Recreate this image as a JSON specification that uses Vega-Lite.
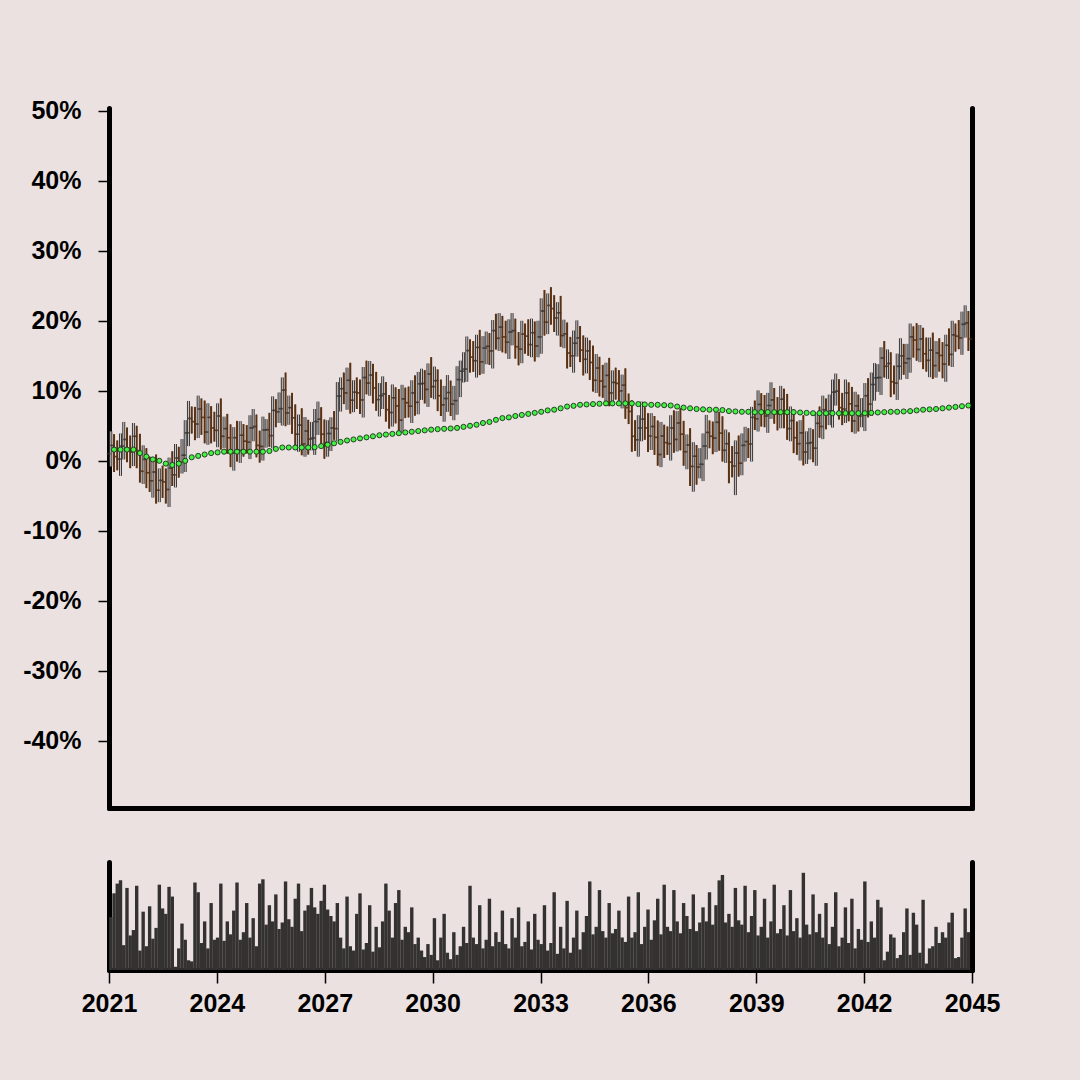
{
"$schema": "https://vega.github.io/schema/vega-lite/v6.json",
"background": "#ebe1e1",
"padding": {"left": 22, "top": 98, "right": 90, "bottom": 70},
"spacing": 54,
"datasets": {
"bars": [
{"t":2021.05,"o":1.0,"h":4.2,"l":-0.8,"c":2.2,"v":49},
{"t":2021.14,"o":2.2,"h":3.8,"l":-1.6,"c":0.6,"v":71},
{"t":2021.23,"o":0.6,"h":2.9,"l":-1.35,"c":0.25,"v":80},
{"t":2021.32,"o":0.25,"h":3.9,"l":-2.15,"c":2.1,"v":83},
{"t":2021.41,"o":2.1,"h":5.55,"l":0.2,"c":3.05,"v":23},
{"t":2021.50,"o":3.05,"h":4.75,"l":-0.2,"c":1.5,"v":76},
{"t":2021.59,"o":1.5,"h":3.6,"l":-1.05,"c":1.25,"v":32},
{"t":2021.68,"o":1.25,"h":5.4,"l":-0.75,"c":3.5,"v":37},
{"t":2021.77,"o":3.5,"h":5.0,"l":-1.05,"c":1.45,"v":78},
{"t":2021.86,"o":1.45,"h":3.85,"l":-3.1,"c":-1.5,"v":18},
{"t":2021.95,"o":-1.5,"h":2.2,"l":-3.3,"c":0.2,"v":54},
{"t":2022.04,"o":0.2,"h":1.8,"l":-3.9,"c":-1.7,"v":22},
{"t":2022.13,"o":-1.7,"h":0.6,"l":-4.45,"c":-2.85,"v":59},
{"t":2022.22,"o":-2.85,"h":0.2,"l":-5.25,"c":-1.6,"v":29},
{"t":2022.31,"o":-1.6,"h":0.9,"l":-6.1,"c":-4.2,"v":39},
{"t":2022.40,"o":-4.2,"h":-1.1,"l":-5.9,"c":-2.8,"v":79},
{"t":2022.49,"o":-2.8,"h":-0.7,"l":-5.3,"c":-3.0,"v":57},
{"t":2022.58,"o":-3.0,"h":-1.1,"l":-6.1,"c":-4.1,"v":52},
{"t":2022.67,"o":-4.1,"h":0.45,"l":-6.6,"c":-1.05,"v":77},
{"t":2022.76,"o":-1.05,"h":1.35,"l":-3.6,"c":-2.0,"v":68},
{"t":2022.85,"o":-2.0,"h":2.4,"l":-3.8,"c":0.4,"v":3},
{"t":2022.94,"o":0.4,"h":2.0,"l":-2.4,"c":-0.2,"v":20},
{"t":2023.03,"o":-0.2,"h":3.1,"l":-1.8,"c":0.8,"v":43},
{"t":2023.12,"o":0.8,"h":5.8,"l":-1.6,"c":4.0,"v":28},
{"t":2023.21,"o":4.0,"h":8.55,"l":2.1,"c":6.05,"v":9},
{"t":2023.30,"o":6.05,"h":7.75,"l":3.9,"c":5.6,"v":8},
{"t":2023.39,"o":5.6,"h":7.7,"l":2.95,"c":5.25,"v":81},
{"t":2023.48,"o":5.25,"h":9.3,"l":3.25,"c":7.4,"v":72},
{"t":2023.57,"o":7.4,"h":8.9,"l":3.7,"c":6.2,"v":25},
{"t":2023.66,"o":6.2,"h":8.6,"l":2.5,"c":4.1,"v":45},
{"t":2023.75,"o":4.1,"h":8.2,"l":2.3,"c":6.2,"v":20},
{"t":2023.84,"o":6.2,"h":7.8,"l":2.5,"c":4.7,"v":62},
{"t":2023.93,"o":4.7,"h":7.0,"l":2.75,"c":4.35,"v":28},
{"t":2024.02,"o":4.35,"h":8.2,"l":1.95,"c":6.4,"v":30},
{"t":2024.11,"o":6.4,"h":8.9,"l":1.6,"c":3.5,"v":80},
{"t":2024.20,"o":3.5,"h":6.3,"l":1.8,"c":4.6,"v":27},
{"t":2024.29,"o":4.6,"h":6.7,"l":1.0,"c":3.3,"v":45},
{"t":2024.38,"o":3.3,"h":5.2,"l":-0.9,"c":1.1,"v":33},
{"t":2024.47,"o":1.1,"h":4.8,"l":-1.4,"c":3.3,"v":55},
{"t":2024.56,"o":3.3,"h":5.7,"l":-0.1,"c":1.5,"v":81},
{"t":2024.65,"o":1.5,"h":5.65,"l":-0.3,"c":3.65,"v":28},
{"t":2024.74,"o":3.65,"h":5.25,"l":0.6,"c":2.8,"v":35},
{"t":2024.83,"o":2.8,"h":5.1,"l":1.05,"c":2.65,"v":62},
{"t":2024.92,"o":2.65,"h":6.5,"l":0.25,"c":4.7,"v":30},
{"t":2025.01,"o":4.7,"h":7.4,"l":2.8,"c":4.9,"v":48},
{"t":2025.10,"o":4.9,"h":6.6,"l":0.5,"c":2.2,"v":22},
{"t":2025.19,"o":2.2,"h":4.3,"l":-0.25,"c":2.05,"v":80},
{"t":2025.28,"o":2.05,"h":6.3,"l":0.05,"c":4.4,"v":84},
{"t":2025.37,"o":4.4,"h":5.95,"l":1.9,"c":4.45,"v":42},
{"t":2025.46,"o":4.45,"h":6.85,"l":2.0,"c":3.6,"v":60},
{"t":2025.55,"o":3.6,"h":9.2,"l":1.8,"c":7.2,"v":45},
{"t":2025.64,"o":7.2,"h":8.8,"l":4.8,"c":7.0,"v":70},
{"t":2025.73,"o":7.0,"h":9.75,"l":5.4,"c":7.45,"v":38},
{"t":2025.82,"o":7.45,"h":11.9,"l":5.05,"c":10.1,"v":44},
{"t":2025.91,"o":10.1,"h":12.6,"l":4.95,"c":6.85,"v":82},
{"t":2026.00,"o":6.85,"h":9.3,"l":5.15,"c":7.6,"v":47},
{"t":2026.09,"o":7.6,"h":9.7,"l":3.85,"c":6.15,"v":40},
{"t":2026.18,"o":6.15,"h":8.05,"l":1.8,"c":3.8,"v":66},
{"t":2026.27,"o":3.8,"h":6.6,"l":1.3,"c":5.1,"v":80},
{"t":2026.36,"o":5.1,"h":7.5,"l":0.8,"c":2.4,"v":36},
{"t":2026.45,"o":2.4,"h":6.25,"l":0.6,"c":4.25,"v":55},
{"t":2026.54,"o":4.25,"h":5.85,"l":0.9,"c":3.1,"v":60},
{"t":2026.63,"o":3.1,"h":5.55,"l":1.5,"c":3.25,"v":76},
{"t":2026.72,"o":3.25,"h":7.4,"l":0.85,"c":5.6,"v":58},
{"t":2026.81,"o":5.6,"h":8.45,"l":3.7,"c":5.95,"v":52},
{"t":2026.90,"o":5.95,"h":7.65,"l":2.1,"c":3.8,"v":64},
{"t":2026.99,"o":3.8,"h":5.9,"l":0.3,"c":2.6,"v":79},
{"t":2027.08,"o":2.6,"h":5.8,"l":0.6,"c":3.9,"v":56},
{"t":2027.17,"o":3.9,"h":6.2,"l":1.4,"c":4.7,"v":50},
{"t":2027.26,"o":4.7,"h":7.1,"l":3.0,"c":4.6,"v":45},
{"t":2027.35,"o":4.6,"h":11.25,"l":2.8,"c":9.25,"v":62},
{"t":2027.44,"o":9.25,"h":11.9,"l":7.05,"c":10.3,"v":30},
{"t":2027.53,"o":10.3,"h":12.6,"l":8.1,"c":9.7,"v":20},
{"t":2027.62,"o":9.7,"h":13.3,"l":7.3,"c":11.5,"v":68},
{"t":2027.71,"o":11.5,"h":14.0,"l":6.75,"c":8.65,"v":22},
{"t":2027.80,"o":8.65,"h":11.5,"l":6.95,"c":9.8,"v":18},
{"t":2027.89,"o":9.8,"h":11.9,"l":7.4,"c":9.7,"v":52},
{"t":2027.98,"o":9.7,"h":11.6,"l":6.7,"c":8.7,"v":71},
{"t":2028.07,"o":8.7,"h":13.4,"l":6.2,"c":11.9,"v":19},
{"t":2028.16,"o":11.9,"h":14.3,"l":9.5,"c":11.1,"v":25},
{"t":2028.25,"o":11.1,"h":14.25,"l":9.3,"c":12.25,"v":60},
{"t":2028.34,"o":12.25,"h":13.85,"l":8.2,"c":10.4,"v":17},
{"t":2028.43,"o":10.4,"h":12.7,"l":7.15,"c":8.75,"v":40},
{"t":2028.52,"o":8.75,"h":11.1,"l":6.35,"c":9.3,"v":21},
{"t":2028.61,"o":9.3,"h":12.05,"l":7.4,"c":9.55,"v":45},
{"t":2028.70,"o":9.55,"h":11.25,"l":5.6,"c":7.3,"v":80},
{"t":2028.79,"o":7.3,"h":9.4,"l":4.6,"c":6.9,"v":55},
{"t":2028.88,"o":6.9,"h":10.9,"l":4.9,"c":9.0,"v":30},
{"t":2028.97,"o":9.0,"h":10.5,"l":5.35,"c":7.85,"v":62},
{"t":2029.06,"o":7.85,"h":10.25,"l":4.2,"c":5.8,"v":74},
{"t":2029.15,"o":5.8,"h":10.85,"l":4.0,"c":8.85,"v":28},
{"t":2029.24,"o":8.85,"h":10.45,"l":6.1,"c":8.3,"v":40},
{"t":2029.33,"o":8.3,"h":10.6,"l":6.2,"c":7.8,"v":35},
{"t":2029.42,"o":7.8,"h":11.5,"l":5.4,"c":9.7,"v":58},
{"t":2029.51,"o":9.7,"h":12.2,"l":6.45,"c":8.35,"v":24},
{"t":2029.60,"o":8.35,"h":12.7,"l":6.65,"c":11.0,"v":30},
{"t":2029.69,"o":11.0,"h":13.15,"l":8.7,"c":11.05,"v":18},
{"t":2029.78,"o":11.05,"h":12.95,"l":8.2,"c":10.2,"v":12},
{"t":2029.87,"o":10.2,"h":13.9,"l":7.7,"c":12.4,"v":24},
{"t":2029.96,"o":12.4,"h":14.8,"l":9.0,"c":10.6,"v":14},
{"t":2030.05,"o":10.6,"h":13.45,"l":8.8,"c":11.45,"v":48},
{"t":2030.14,"o":11.45,"h":13.05,"l":7.1,"c":9.3,"v":9},
{"t":2030.23,"o":9.3,"h":11.6,"l":6.4,"c":8.0,"v":30},
{"t":2030.32,"o":8.0,"h":10.7,"l":5.6,"c":8.9,"v":52},
{"t":2030.41,"o":8.9,"h":12.25,"l":7.0,"c":9.75,"v":16},
{"t":2030.50,"o":9.75,"h":11.45,"l":6.4,"c":8.1,"v":10},
{"t":2030.59,"o":8.1,"h":10.7,"l":5.8,"c":8.6,"v":35},
{"t":2030.68,"o":8.6,"h":13.5,"l":6.6,"c":11.6,"v":14},
{"t":2030.77,"o":11.6,"h":14.3,"l":9.1,"c":12.8,"v":22},
{"t":2030.86,"o":12.8,"h":15.5,"l":11.2,"c":13.1,"v":40},
{"t":2030.95,"o":13.1,"h":17.75,"l":11.3,"c":15.75,"v":25},
{"t":2031.04,"o":15.75,"h":17.35,"l":12.6,"c":14.8,"v":78},
{"t":2031.13,"o":14.8,"h":17.1,"l":12.7,"c":14.3,"v":30},
{"t":2031.22,"o":14.3,"h":18.0,"l":11.9,"c":16.2,"v":24},
{"t":2031.31,"o":16.2,"h":18.7,"l":12.25,"c":14.15,"v":60},
{"t":2031.40,"o":14.15,"h":17.8,"l":12.45,"c":16.1,"v":20},
{"t":2031.49,"o":16.1,"h":18.45,"l":13.8,"c":16.35,"v":28},
{"t":2031.58,"o":16.35,"h":18.25,"l":13.7,"c":15.7,"v":66},
{"t":2031.67,"o":15.7,"h":20.1,"l":13.2,"c":18.6,"v":22},
{"t":2031.76,"o":18.6,"h":21.0,"l":15.9,"c":17.5,"v":35},
{"t":2031.85,"o":17.5,"h":21.1,"l":15.7,"c":19.1,"v":26},
{"t":2031.94,"o":19.1,"h":20.7,"l":15.5,"c":17.7,"v":55},
{"t":2032.03,"o":17.7,"h":20.0,"l":15.35,"c":16.95,"v":24},
{"t":2032.12,"o":16.95,"h":20.2,"l":14.55,"c":18.4,"v":20},
{"t":2032.21,"o":18.4,"h":21.1,"l":16.5,"c":18.6,"v":48},
{"t":2032.30,"o":18.6,"h":20.3,"l":14.6,"c":16.3,"v":30},
{"t":2032.39,"o":16.3,"h":18.4,"l":13.65,"c":15.95,"v":58},
{"t":2032.48,"o":15.95,"h":20.0,"l":13.95,"c":18.1,"v":22},
{"t":2032.57,"o":18.1,"h":19.6,"l":15.3,"c":17.8,"v":26},
{"t":2032.66,"o":17.8,"h":20.2,"l":15.0,"c":16.6,"v":45},
{"t":2032.75,"o":16.6,"h":20.3,"l":14.8,"c":18.3,"v":19},
{"t":2032.84,"o":18.3,"h":19.9,"l":14.2,"c":16.4,"v":52},
{"t":2032.93,"o":16.4,"h":20.0,"l":14.8,"c":17.7,"v":28},
{"t":2033.02,"o":17.7,"h":23.2,"l":15.3,"c":21.4,"v":24},
{"t":2033.11,"o":21.4,"h":24.4,"l":17.9,"c":19.8,"v":60},
{"t":2033.20,"o":19.8,"h":23.9,"l":18.1,"c":22.2,"v":18},
{"t":2033.29,"o":22.2,"h":24.8,"l":19.45,"c":21.75,"v":25},
{"t":2033.38,"o":21.75,"h":23.65,"l":18.4,"c":20.4,"v":72},
{"t":2033.47,"o":20.4,"h":22.65,"l":17.9,"c":21.15,"v":15},
{"t":2033.56,"o":21.15,"h":23.55,"l":16.3,"c":17.9,"v":40},
{"t":2033.65,"o":17.9,"h":20.15,"l":16.1,"c":18.15,"v":20},
{"t":2033.74,"o":18.15,"h":19.75,"l":13.2,"c":15.4,"v":64},
{"t":2033.83,"o":15.4,"h":17.7,"l":13.4,"c":15.0,"v":16},
{"t":2033.92,"o":15.0,"h":18.6,"l":12.6,"c":16.8,"v":30},
{"t":2034.01,"o":16.8,"h":20.05,"l":14.9,"c":17.55,"v":55},
{"t":2034.10,"o":17.55,"h":19.25,"l":14.1,"c":15.8,"v":19},
{"t":2034.19,"o":15.8,"h":17.9,"l":12.2,"c":14.5,"v":35},
{"t":2034.28,"o":14.5,"h":17.6,"l":12.5,"c":15.7,"v":50},
{"t":2034.37,"o":15.7,"h":17.2,"l":11.55,"c":14.05,"v":82},
{"t":2034.46,"o":14.05,"h":16.45,"l":9.9,"c":11.5,"v":33},
{"t":2034.55,"o":11.5,"h":15.25,"l":9.7,"c":13.25,"v":40},
{"t":2034.64,"o":13.25,"h":14.85,"l":9.2,"c":11.4,"v":74},
{"t":2034.73,"o":11.4,"h":13.7,"l":9.0,"c":10.6,"v":36},
{"t":2034.82,"o":10.6,"h":14.0,"l":8.2,"c":12.2,"v":30},
{"t":2034.91,"o":12.2,"h":14.7,"l":7.8,"c":9.7,"v":62},
{"t":2035.00,"o":9.7,"h":12.9,"l":8.0,"c":11.2,"v":34},
{"t":2035.09,"o":11.2,"h":13.3,"l":8.75,"c":11.05,"v":38},
{"t":2035.18,"o":11.05,"h":12.95,"l":8.0,"c":10.0,"v":55},
{"t":2035.27,"o":10.0,"h":12.3,"l":7.5,"c":10.8,"v":30},
{"t":2035.36,"o":10.8,"h":13.2,"l":6.0,"c":7.6,"v":26},
{"t":2035.45,"o":7.6,"h":9.6,"l":5.25,"c":7.05,"v":68},
{"t":2035.54,"o":7.05,"h":8.65,"l":1.3,"c":3.5,"v":30},
{"t":2035.63,"o":3.5,"h":5.8,"l":1.4,"c":3.0,"v":35},
{"t":2035.72,"o":3.0,"h":6.5,"l":0.6,"c":4.7,"v":72},
{"t":2035.81,"o":4.7,"h":8.45,"l":2.8,"c":5.95,"v":24},
{"t":2035.90,"o":5.95,"h":7.65,"l":3.0,"c":4.7,"v":40},
{"t":2035.99,"o":4.7,"h":6.8,"l":1.25,"c":3.55,"v":56},
{"t":2036.08,"o":3.55,"h":6.8,"l":1.55,"c":4.9,"v":28},
{"t":2036.17,"o":4.9,"h":6.4,"l":0.85,"c":3.35,"v":46},
{"t":2036.26,"o":3.35,"h":5.75,"l":-0.7,"c":0.9,"v":66},
{"t":2036.35,"o":0.9,"h":5.55,"l":-0.9,"c":3.55,"v":33},
{"t":2036.44,"o":3.55,"h":5.15,"l":0.4,"c":2.6,"v":79},
{"t":2036.53,"o":2.6,"h":4.9,"l":0.85,"c":2.45,"v":40},
{"t":2036.62,"o":2.45,"h":6.5,"l":0.05,"c":4.7,"v":36},
{"t":2036.71,"o":4.7,"h":7.2,"l":1.15,"c":3.05,"v":74},
{"t":2036.80,"o":3.05,"h":7.1,"l":1.35,"c":5.4,"v":45},
{"t":2036.89,"o":5.4,"h":7.5,"l":1.5,"c":3.8,"v":34},
{"t":2036.98,"o":3.8,"h":5.7,"l":-0.7,"c":1.3,"v":62},
{"t":2037.07,"o":1.3,"h":3.75,"l":-1.2,"c":2.25,"v":50},
{"t":2037.16,"o":2.25,"h":4.65,"l":-3.6,"c":-0.8,"v":38},
{"t":2037.25,"o":-0.8,"h":2.65,"l":-4.4,"c":0.65,"v":70},
{"t":2037.34,"o":0.65,"h":2.25,"l":-3.4,"c":-0.9,"v":36},
{"t":2037.43,"o":-0.9,"h":1.8,"l":-2.5,"c":-0.5,"v":44},
{"t":2037.52,"o":-0.5,"h":3.9,"l":-2.9,"c":2.1,"v":58},
{"t":2037.61,"o":2.1,"h":6.55,"l":0.2,"c":4.05,"v":45},
{"t":2037.70,"o":4.05,"h":5.75,"l":1.8,"c":3.5,"v":72},
{"t":2037.79,"o":3.5,"h":5.6,"l":0.95,"c":3.25,"v":42},
{"t":2037.88,"o":3.25,"h":7.4,"l":1.25,"c":5.5,"v":60},
{"t":2037.97,"o":5.5,"h":7.0,"l":1.45,"c":3.95,"v":83},
{"t":2038.06,"o":3.95,"h":6.35,"l":-0.1,"c":1.5,"v":88},
{"t":2038.15,"o":1.5,"h":4.45,"l":-0.3,"c":2.45,"v":44},
{"t":2038.24,"o":2.45,"h":4.05,"l":-3.2,"c":-0.2,"v":52},
{"t":2038.33,"o":-0.2,"h":2.1,"l":-2.35,"c":-0.75,"v":40},
{"t":2038.42,"o":-0.75,"h":2.9,"l":-4.9,"c":1.1,"v":76},
{"t":2038.51,"o":1.1,"h":3.6,"l":-2.25,"c":-0.35,"v":46},
{"t":2038.60,"o":-0.35,"h":3.9,"l":-2.05,"c":2.2,"v":42},
{"t":2038.69,"o":2.2,"h":4.85,"l":-0.1,"c":2.75,"v":78},
{"t":2038.78,"o":2.75,"h":4.65,"l":0.4,"c":2.4,"v":35},
{"t":2038.87,"o":2.4,"h":7.7,"l":-0.1,"c":6.2,"v":50},
{"t":2038.96,"o":6.2,"h":8.6,"l":4.4,"c":6.0,"v":74},
{"t":2039.05,"o":6.0,"h":10.05,"l":4.2,"c":8.05,"v":32},
{"t":2039.14,"o":8.05,"h":9.65,"l":4.9,"c":7.1,"v":40},
{"t":2039.23,"o":7.1,"h":9.4,"l":4.8,"c":6.4,"v":66},
{"t":2039.32,"o":6.4,"h":9.7,"l":4.0,"c":7.9,"v":30},
{"t":2039.41,"o":7.9,"h":11.2,"l":6.0,"c":8.7,"v":45},
{"t":2039.50,"o":8.7,"h":10.4,"l":5.3,"c":7.0,"v":79},
{"t":2039.59,"o":7.0,"h":9.1,"l":4.35,"c":6.65,"v":34},
{"t":2039.68,"o":6.65,"h":10.7,"l":4.65,"c":8.8,"v":38},
{"t":2039.77,"o":8.8,"h":10.3,"l":4.65,"c":7.15,"v":60},
{"t":2039.86,"o":7.15,"h":9.55,"l":3.0,"c":4.6,"v":32},
{"t":2039.95,"o":4.6,"h":7.75,"l":2.8,"c":5.75,"v":74},
{"t":2040.04,"o":5.75,"h":7.35,"l":1.1,"c":3.3,"v":36},
{"t":2040.13,"o":3.3,"h":5.6,"l":0.85,"c":2.45,"v":48},
{"t":2040.22,"o":2.45,"h":5.8,"l":0.05,"c":4.0,"v":30},
{"t":2040.31,"o":4.0,"h":6.5,"l":-0.65,"c":1.25,"v":90},
{"t":2040.40,"o":1.25,"h":4.2,"l":-0.45,"c":2.5,"v":42},
{"t":2040.49,"o":2.5,"h":4.7,"l":0.2,"c":2.6,"v":33},
{"t":2040.58,"o":2.6,"h":4.5,"l":-0.2,"c":1.8,"v":70},
{"t":2040.67,"o":1.8,"h":6.85,"l":-0.7,"c":5.35,"v":35},
{"t":2040.76,"o":5.35,"h":7.75,"l":3.3,"c":4.9,"v":52},
{"t":2040.85,"o":4.9,"h":9.3,"l":3.1,"c":7.3,"v":30},
{"t":2040.94,"o":7.3,"h":8.9,"l":4.5,"c":6.7,"v":62},
{"t":2041.03,"o":6.7,"h":9.45,"l":5.1,"c":7.15,"v":24},
{"t":2041.12,"o":7.15,"h":11.6,"l":4.75,"c":9.8,"v":40},
{"t":2041.21,"o":9.8,"h":12.45,"l":7.9,"c":9.95,"v":72},
{"t":2041.30,"o":9.95,"h":11.65,"l":5.9,"c":7.6,"v":22},
{"t":2041.39,"o":7.6,"h":9.7,"l":5.1,"c":7.4,"v":30},
{"t":2041.48,"o":7.4,"h":11.6,"l":5.4,"c":9.7,"v":58},
{"t":2041.57,"o":9.7,"h":11.2,"l":5.65,"c":8.15,"v":25},
{"t":2041.66,"o":8.15,"h":10.55,"l":4.1,"c":5.7,"v":66},
{"t":2041.75,"o":5.7,"h":9.85,"l":3.9,"c":7.85,"v":20},
{"t":2041.84,"o":7.85,"h":9.45,"l":4.2,"c":6.4,"v":38},
{"t":2041.93,"o":6.4,"h":8.95,"l":4.8,"c":6.65,"v":28},
{"t":2042.02,"o":6.65,"h":11.1,"l":4.25,"c":9.3,"v":82},
{"t":2042.11,"o":9.3,"h":11.8,"l":6.2,"c":8.1,"v":26},
{"t":2042.20,"o":8.1,"h":12.6,"l":6.4,"c":10.9,"v":45},
{"t":2042.29,"o":10.9,"h":13.95,"l":8.6,"c":11.85,"v":30},
{"t":2042.38,"o":11.85,"h":13.8,"l":9.85,"c":11.9,"v":65},
{"t":2042.47,"o":11.9,"h":16.2,"l":9.4,"c":14.7,"v":58},
{"t":2042.56,"o":14.7,"h":17.1,"l":11.9,"c":13.5,"v":9},
{"t":2042.65,"o":13.5,"h":15.9,"l":11.7,"c":13.9,"v":17},
{"t":2042.74,"o":13.9,"h":15.5,"l":9.1,"c":11.3,"v":33},
{"t":2042.83,"o":11.3,"h":13.6,"l":9.5,"c":11.1,"v":30},
{"t":2042.92,"o":11.1,"h":15.3,"l":8.7,"c":13.5,"v":11},
{"t":2043.01,"o":13.5,"h":17.5,"l":11.6,"c":15.0,"v":14},
{"t":2043.10,"o":15.0,"h":16.7,"l":12.3,"c":14.0,"v":35},
{"t":2043.19,"o":14.0,"h":16.7,"l":11.7,"c":14.6,"v":57},
{"t":2043.28,"o":14.6,"h":19.6,"l":12.6,"c":17.7,"v":14},
{"t":2043.37,"o":17.7,"h":19.2,"l":14.75,"c":17.25,"v":53},
{"t":2043.46,"o":17.25,"h":19.65,"l":14.3,"c":15.9,"v":42},
{"t":2043.55,"o":15.9,"h":19.4,"l":14.1,"c":17.4,"v":16},
{"t":2043.64,"o":17.4,"h":19.0,"l":13.1,"c":15.3,"v":65},
{"t":2043.73,"o":15.3,"h":17.6,"l":12.75,"c":14.35,"v":6},
{"t":2043.82,"o":14.35,"h":17.6,"l":11.95,"c":15.8,"v":20},
{"t":2043.91,"o":15.8,"h":18.3,"l":11.7,"c":13.6,"v":22},
{"t":2044.00,"o":13.6,"h":17.1,"l":11.9,"c":15.4,"v":40},
{"t":2044.09,"o":15.4,"h":17.5,"l":12.75,"c":15.05,"v":25},
{"t":2044.18,"o":15.05,"h":16.95,"l":11.8,"c":13.8,"v":35},
{"t":2044.27,"o":13.8,"h":18.0,"l":11.3,"c":16.5,"v":30},
{"t":2044.36,"o":16.5,"h":18.9,"l":13.6,"c":15.2,"v":44},
{"t":2044.45,"o":15.2,"h":20.0,"l":13.4,"c":18.0,"v":53},
{"t":2044.54,"o":18.0,"h":19.6,"l":15.6,"c":17.8,"v":11},
{"t":2044.63,"o":17.8,"h":20.1,"l":15.95,"c":17.55,"v":12},
{"t":2044.72,"o":17.55,"h":21.3,"l":15.15,"c":19.5,"v":30},
{"t":2044.81,"o":19.5,"h":22.2,"l":17.6,"c":19.7,"v":57},
{"t":2044.90,"o":19.7,"h":21.4,"l":15.7,"c":17.4,"v":35}
],
"ma": [
{"t":2021.14,"ma":1.6},{"t":2021.32,"ma":1.6},{"t":2021.5,"ma":1.6},{"t":2021.68,"ma":1.6},{"t":2021.86,"ma":1.1},
{"t":2022.04,"ma":0.6},{"t":2022.22,"ma":0.2},{"t":2022.4,"ma":0.0},{"t":2022.58,"ma":-0.4},{"t":2022.76,"ma":-0.6},
{"t":2022.94,"ma":-0.4},{"t":2023.12,"ma":0.0},{"t":2023.3,"ma":0.5},{"t":2023.48,"ma":0.7},{"t":2023.66,"ma":0.9},
{"t":2023.84,"ma":1.1},{"t":2024.02,"ma":1.2},{"t":2024.2,"ma":1.3},{"t":2024.38,"ma":1.3},{"t":2024.56,"ma":1.3},
{"t":2024.74,"ma":1.3},{"t":2024.92,"ma":1.3},{"t":2025.1,"ma":1.3},{"t":2025.28,"ma":1.3},{"t":2025.46,"ma":1.4},
{"t":2025.64,"ma":1.7},{"t":2025.82,"ma":1.9},{"t":2026.0,"ma":1.9},{"t":2026.18,"ma":1.9},{"t":2026.36,"ma":1.9},
{"t":2026.54,"ma":1.9},{"t":2026.72,"ma":1.95},{"t":2026.9,"ma":2.1},{"t":2027.08,"ma":2.3},{"t":2027.26,"ma":2.5},
{"t":2027.44,"ma":2.7},{"t":2027.62,"ma":2.9},{"t":2027.8,"ma":3.05},{"t":2027.98,"ma":3.2},{"t":2028.16,"ma":3.35},
{"t":2028.34,"ma":3.5},{"t":2028.52,"ma":3.65},{"t":2028.7,"ma":3.75},{"t":2028.88,"ma":3.85},{"t":2029.06,"ma":3.95},
{"t":2029.24,"ma":4.05},{"t":2029.42,"ma":4.15},{"t":2029.6,"ma":4.25},{"t":2029.78,"ma":4.35},{"t":2029.96,"ma":4.45},
{"t":2030.14,"ma":4.52},{"t":2030.32,"ma":4.57},{"t":2030.5,"ma":4.62},{"t":2030.68,"ma":4.7},{"t":2030.86,"ma":4.85},
{"t":2031.04,"ma":5.0},{"t":2031.22,"ma":5.15},{"t":2031.4,"ma":5.4},{"t":2031.58,"ma":5.55},{"t":2031.76,"ma":5.85},
{"t":2031.94,"ma":6.1},{"t":2032.12,"ma":6.2},{"t":2032.3,"ma":6.4},{"t":2032.48,"ma":6.55},{"t":2032.66,"ma":6.7},
{"t":2032.84,"ma":6.85},{"t":2033.02,"ma":7.0},{"t":2033.2,"ma":7.2},{"t":2033.38,"ma":7.3},{"t":2033.56,"ma":7.5},
{"t":2033.74,"ma":7.75},{"t":2033.92,"ma":7.85},{"t":2034.1,"ma":8.0},{"t":2034.28,"ma":8.05},{"t":2034.46,"ma":8.1},
{"t":2034.64,"ma":8.15},{"t":2034.82,"ma":8.2},{"t":2035.0,"ma":8.2},{"t":2035.18,"ma":8.2},{"t":2035.36,"ma":8.2},
{"t":2035.54,"ma":8.2},{"t":2035.72,"ma":8.1},{"t":2035.9,"ma":8.05},{"t":2036.08,"ma":8.0},{"t":2036.26,"ma":8.0},
{"t":2036.44,"ma":7.95},{"t":2036.62,"ma":7.9},{"t":2036.8,"ma":7.75},{"t":2036.98,"ma":7.6},{"t":2037.16,"ma":7.5},
{"t":2037.34,"ma":7.4},{"t":2037.52,"ma":7.35},{"t":2037.7,"ma":7.3},{"t":2037.88,"ma":7.3},{"t":2038.06,"ma":7.25},
{"t":2038.24,"ma":7.1},{"t":2038.42,"ma":7.05},{"t":2038.6,"ma":7.0},{"t":2038.78,"ma":7.0},{"t":2038.96,"ma":6.95},
{"t":2039.14,"ma":6.95},{"t":2039.32,"ma":6.95},{"t":2039.5,"ma":6.95},{"t":2039.68,"ma":6.95},{"t":2039.86,"ma":6.95},
{"t":2040.04,"ma":6.95},{"t":2040.22,"ma":6.9},{"t":2040.4,"ma":6.85},{"t":2040.58,"ma":6.8},{"t":2040.76,"ma":6.8},
{"t":2040.94,"ma":6.8},{"t":2041.12,"ma":6.8},{"t":2041.3,"ma":6.8},{"t":2041.48,"ma":6.8},{"t":2041.66,"ma":6.8},
{"t":2041.84,"ma":6.8},{"t":2042.02,"ma":6.8},{"t":2042.2,"ma":6.85},{"t":2042.38,"ma":6.9},{"t":2042.56,"ma":6.95},
{"t":2042.74,"ma":7.0},{"t":2042.92,"ma":7.0},{"t":2043.1,"ma":7.05},{"t":2043.28,"ma":7.1},{"t":2043.46,"ma":7.2},
{"t":2043.64,"ma":7.3},{"t":2043.82,"ma":7.35},{"t":2044.0,"ma":7.4},{"t":2044.18,"ma":7.5},{"t":2044.36,"ma":7.6},
{"t":2044.54,"ma":7.7},{"t":2044.72,"ma":7.8},{"t":2044.9,"ma":7.9}
]
},
"vconcat": [
{
"width": 863,
"height": 700,
"data": {"name": "bars"},
"layer": [
{
"mark": {"type": "rule"},
"encoding": {
"x": {"field": "t", "type": "quantitative", "scale": {"domain": [2021, 2045], "nice": false, "zero": false, "padding": 0}, "axis": {"orient": "bottom", "labels": false, "ticks": false, "title": null, "grid": false}},
"y": {"field": "l", "type": "quantitative", "scale": {"domain": [-49.6, 50.4], "nice": false, "zero": false}, "axis": {"orient": "left", "values": [-40, -30, -20, -10, 0, 10, 20, 30, 40, 50], "labelExpr": "datum.value + '%'", "title": null, "grid": false}},
"y2": {"field": "h"},
"color": {"condition": {"test": "datum.c < datum.o", "value": "#5a3214"}, "value": "#3a3838"},
"strokeWidth": {"condition": {"test": "datum.c < datum.o", "value": 2}, "value": 3}
}
},
{
"mark": {"type": "rule", "strokeWidth": 1},
"encoding": {
"x": {"field": "t", "type": "quantitative", "axis": null},
"y": {"field": "l", "type": "quantitative", "axis": null},
"y2": {"field": "h"},
"color": {"condition": {"test": "datum.c < datum.o", "value": "#5a3214"}, "value": "#d2caca"}
}
},
{
"mark": {"type": "tick", "orient": "horizontal", "size": 4, "thickness": 1.5, "xOffset": -2},
"encoding": {
"x": {"field": "t", "type": "quantitative", "axis": null},
"y": {"field": "o", "type": "quantitative", "axis": null},
"color": {"condition": {"test": "datum.c < datum.o", "value": "#5a3214"}, "value": "#3a3838"}
}
},
{
"mark": {"type": "tick", "orient": "horizontal", "size": 4, "thickness": 1.5, "xOffset": 2},
"encoding": {
"x": {"field": "t", "type": "quantitative", "axis": null},
"y": {"field": "c", "type": "quantitative", "axis": null},
"color": {"condition": {"test": "datum.c < datum.o", "value": "#5a3214"}, "value": "#3a3838"}
}
},
{
"data": {"name": "ma"},
"mark": {"type": "point", "shape": "circle", "filled": true, "size": 26, "fill": "#44f244", "stroke": "#1a2e1a", "strokeWidth": 0.9, "opacity": 1},
"encoding": {
"x": {"field": "t", "type": "quantitative", "axis": null},
"y": {"field": "ma", "type": "quantitative", "axis": {"orient": "right", "labels": false, "ticks": false, "title": null, "grid": false}}
}
}
],
"resolve": {"axis": {"x": "independent", "y": "independent"}}
},
{
"width": 863,
"height": 108,
"data": {"name": "bars"},
"layer": [
{
"mark": {"type": "bar", "orient": "vertical", "size": 3.4, "color": "#343131"},
"encoding": {
"x": {"field": "t", "type": "quantitative", "scale": {"domain": [2021, 2045], "nice": false, "zero": false, "padding": 0}, "axis": {"orient": "bottom", "values": [2021, 2024, 2027, 2030, 2033, 2036, 2039, 2042, 2045], "format": "d", "title": null, "grid": false, "tickSize": 13, "labelPadding": 8, "labelFlush": false, "labelOverlap": false}},
"y": {"field": "v", "type": "quantitative", "scale": {"domain": [0, 100], "nice": false}, "axis": {"orient": "left", "labels": false, "ticks": false, "title": null, "grid": false}}
}
},
{
"mark": {"type": "rule", "opacity": 0},
"encoding": {
"x": {"field": "t", "type": "quantitative", "axis": null},
"y": {"field": "v", "type": "quantitative", "axis": {"orient": "right", "labels": false, "ticks": false, "title": null, "grid": false}}
}
}
],
"resolve": {"axis": {"x": "independent", "y": "independent"}}
}
],
"config": {
"view": {"stroke": null},
"axis": {
"domainColor": "#000000",
"domainWidth": 5,
"domainCap": "round",
"tickColor": "#000000",
"tickWidth": 1.5,
"tickSize": 11,
"labelFont": "Liberation Sans",
"labelFontWeight": "bold",
"labelFontSize": 25,
"labelColor": "#000000",
"labelPadding": 17,
"grid": false
}
}
}
